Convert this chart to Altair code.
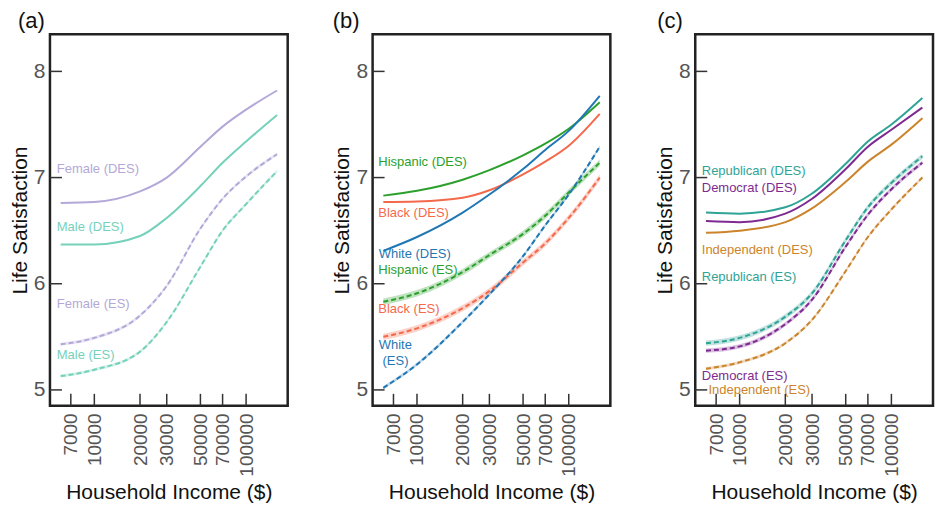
import altair as alt
import pandas as pd

# ---------------- data ----------------
incomes = [6000, 10000, 20000, 30000, 50000, 70000, 100000, 160000]
x_ticks = [7000, 10000, 20000, 30000, 50000, 70000, 100000]
y_ticks = [5, 6, 7, 8]

# panel (a): gender
female_des = [6.76, 6.77, 6.87, 7.00, 7.29, 7.48, 7.64, 7.82]
male_des = [6.37, 6.37, 6.45, 6.62, 6.92, 7.14, 7.34, 7.59]
female_es = [5.43, 5.49, 5.70, 5.98, 6.52, 6.80, 7.01, 7.22]
male_es = [5.13, 5.19, 5.36, 5.64, 6.16, 6.50, 6.75, 7.06]

# panel (b): race / ethnicity
hispanic_des = [6.83, 6.875, 6.98, 7.07, 7.21, 7.32, 7.46, 7.71]
black_des = [6.77, 6.775, 6.81, 6.88, 7.03, 7.15, 7.30, 7.60]
white_des = [6.31, 6.44, 6.67, 6.84, 7.08, 7.26, 7.44, 7.77]
hispanic_es = [5.83, 5.91, 6.11, 6.27, 6.47, 6.64, 6.86, 7.14]
black_es = [5.50, 5.58, 5.77, 5.93, 6.20, 6.38, 6.62, 7.00]
white_es = [5.02, 5.24, 5.64, 5.90, 6.26, 6.55, 6.84, 7.29]

# panel (c): party
rep_des = [6.67, 6.66, 6.72, 6.85, 7.13, 7.34, 7.50, 7.75]
dem_des = [6.59, 6.58, 6.66, 6.80, 7.08, 7.29, 7.45, 7.66]
ind_des = [6.48, 6.50, 6.58, 6.71, 6.96, 7.15, 7.31, 7.56]
rep_es = [5.44, 5.49, 5.69, 5.91, 6.41, 6.72, 6.95, 7.20]
dem_es = [5.37, 5.41, 5.62, 5.85, 6.35, 6.65, 6.89, 7.14]
ind_es = [5.20, 5.26, 5.44, 5.66, 6.12, 6.44, 6.70, 7.00]

# confidence half-widths (estimated visually)
ci_a = [0.0, 0.0, 0.015, 0.015]
ci_b = [0.0, 0.0, 0.0, 0.03, 0.03, 0.015]
ci_c = [0.0, 0.0, 0.0, 0.025, 0.02, 0.015]

# colours
C_FEMALE, C_MALE = "#b4a8d8", "#76d1bb"
C_HISP, C_BLACK, C_WHITE = "#2ca02c", "#f4694c", "#1f77b4"
C_REP, C_DEM, C_IND = "#2fa396", "#7e2a91", "#cc842c"

# labels: (text, income position, value position, colour)
labels_a = [
    ("Female (DES)", 5660, 7.08, C_FEMALE),
    ("Male (DES)", 5660, 6.53, C_MALE),
    ("Female (ES)", 5660, 5.81, C_FEMALE),
    ("Male (ES)", 5660, 5.33, C_MALE),
]
labels_b = [
    ("Hispanic (DES)", 5560, 7.15, C_HISP),
    ("Black (DES)", 5560, 6.67, C_BLACK),
    ("White (DES)", 5600, 6.28, C_WHITE),
    ("Hispanic (ES)", 5560, 6.13, C_HISP),
    ("Black (ES)", 5560, 5.76, C_BLACK),
    ("White", 5600, 5.42, C_WHITE),
    ("(ES)", 5930, 5.27, C_WHITE),
]
labels_c = [
    ("Republican (DES)", 5630, 7.06, C_REP),
    ("Democrat (DES)", 5630, 6.90, C_DEM),
    ("Independent (DES)", 5630, 6.32, C_IND),
    ("Republican (ES)", 5630, 6.06, C_REP),
    ("Democrat (ES)", 5630, 5.13, C_DEM),
    ("Independent (ES)", 6230, 5.00, C_IND),
]

X_DOMAIN = [5100, 188000]
Y_DOMAIN = [4.85, 8.35]
W, H = 238, 372
FONT = "Liberation Sans"

xscale = alt.Scale(type="log", domain=X_DOMAIN, nice=False)
yscale = alt.Scale(domain=Y_DOMAIN, nice=False, zero=False)
xaxis = alt.Axis(values=x_ticks, format="d", labelAngle=270, labelFontSize=19,
                 labelPadding=7, titlePadding=5, labelColor="#555555",
                 titleFontSize=21, domain=False, ticks=False, grid=False,
                 labelOverlap=False, labelFlush=False)
yaxis = alt.Axis(values=y_ticks, labelFontSize=21, labelPadding=5, titlePadding=3,
                 labelColor="#555555", titleFontSize=21, domain=False, ticks=False,
                 grid=False)
XT = "Household Income ($)"
YT = "Life Satisfaction"


def X(field):
    return alt.X(field, scale=xscale, axis=xaxis, title=XT)


def Y(field):
    return alt.Y(field, scale=yscale, axis=yaxis, title=YT)


def panel(letter, letter_dx, series, labels):
    rows = []
    for name, kind, color, vals, band in series:
        for x, v in zip(incomes, vals):
            rows.append(dict(series=name, kind=kind, color=color, income=x,
                             value=v, lo=v - band, hi=v + band))
    df = pd.DataFrame(rows)
    base = alt.Chart(df)
    bands = base.transform_filter(alt.datum.kind == "ES").mark_area(
        opacity=0.3, interpolate="monotone"
    ).encode(x=X("income:Q"), y=Y("lo:Q"), y2="hi:Q",
             color=alt.Color("color:N", scale=None), detail="series:N")
    solid = base.transform_filter(alt.datum.kind == "DES").mark_line(
        strokeWidth=2, interpolate="monotone"
    ).encode(x=X("income:Q"), y=Y("value:Q"),
             color=alt.Color("color:N", scale=None), detail="series:N")
    dashed = base.transform_filter(alt.datum.kind == "ES").mark_line(
        strokeWidth=2, strokeDash=[5, 3], interpolate="monotone"
    ).encode(x=X("income:Q"), y=Y("value:Q"),
             color=alt.Color("color:N", scale=None), detail="series:N")

    ldf = pd.DataFrame(labels, columns=["text", "lx", "ly", "color"])
    text = alt.Chart(ldf).mark_text(align="left", baseline="middle", fontSize=13,
                                    font=FONT).encode(
        x=X("lx:Q"), y=Y("ly:Q"), text="text:N",
        color=alt.Color("color:N", scale=None))

    xt = alt.Chart(pd.DataFrame({"t": x_ticks})).mark_rule(
        color="#333333", strokeWidth=1.5
    ).encode(x=X("t:Q"), y=alt.value(H), y2=alt.value(H - 12))
    yt = alt.Chart(pd.DataFrame({"t": y_ticks})).mark_rule(
        color="#333333", strokeWidth=1.5
    ).encode(y=Y("t:Q"), x=alt.value(0), x2=alt.value(12))

    lab = alt.Chart(pd.DataFrame({"t": [letter]})).mark_text(
        align="left", baseline="alphabetic", fontSize=22, font=FONT, color="#111111"
    ).encode(text="t:N", x=alt.value(letter_dx), y=alt.value(-6))

    return alt.layer(bands, solid, dashed, text, xt, yt, lab).properties(width=W, height=H)


pa = panel("(a)", -32, [
    ("Female DES", "DES", C_FEMALE, female_des, 0.0),
    ("Male DES", "DES", C_MALE, male_des, 0.0),
    ("Female ES", "ES", C_FEMALE, female_es, ci_a[2]),
    ("Male ES", "ES", C_MALE, male_es, ci_a[3]),
], labels_a)

pb = panel("(b)", -40, [
    ("Hispanic DES", "DES", C_HISP, hispanic_des, 0.0),
    ("Black DES", "DES", C_BLACK, black_des, 0.0),
    ("White DES", "DES", C_WHITE, white_des, 0.0),
    ("Hispanic ES", "ES", C_HISP, hispanic_es, ci_b[3]),
    ("Black ES", "ES", C_BLACK, black_es, ci_b[4]),
    ("White ES", "ES", C_WHITE, white_es, ci_b[5]),
], labels_b)

pc = panel("(c)", -38, [
    ("Republican DES", "DES", C_REP, rep_des, 0.0),
    ("Democrat DES", "DES", C_DEM, dem_des, 0.0),
    ("Independent DES", "DES", C_IND, ind_des, 0.0),
    ("Republican ES", "ES", C_REP, rep_es, ci_c[3]),
    ("Democrat ES", "ES", C_DEM, dem_es, ci_c[4]),
    ("Independent ES", "ES", C_IND, ind_es, ci_c[5]),
], labels_c)

chart = alt.hconcat(pa, pb, pc, spacing=41).properties(padding=0).configure(
    font=FONT, background="white"
).configure_view(
    stroke="#222222", strokeWidth=2.5
).configure_axis(
    titleFontWeight="normal", titleColor="#111111"
)

chart.save("out.html", embed_options={"renderer": "svg", "actions": False})
